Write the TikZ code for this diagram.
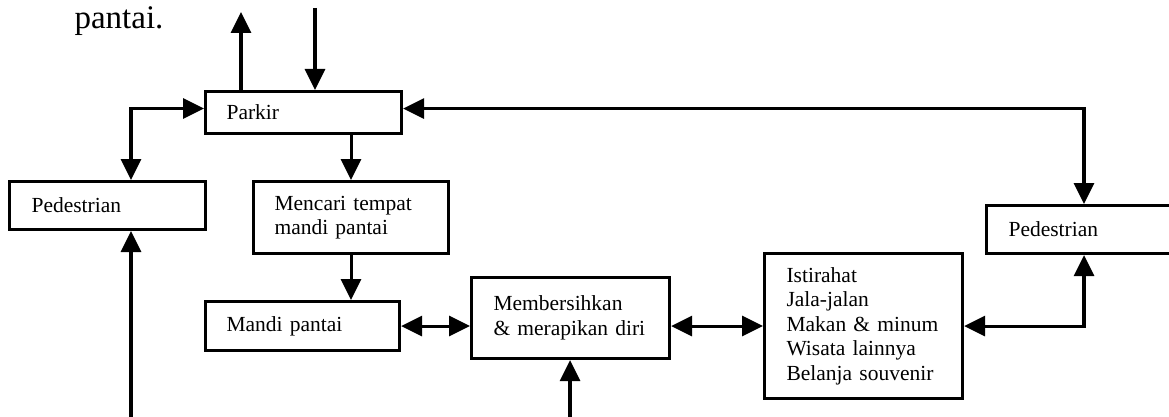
\documentclass[tikz,border=0pt]{standalone}
\usepackage{fontspec}
\setmainfont{Liberation Serif}
\usetikzlibrary{arrows.meta,calc}
\begin{document}
\begin{tikzpicture}[x=1pt,y=-1pt,
  line width=3.1pt,
  every node/.style={font=\fontsize{21.5}{24.5}\selectfont},
  box/.style={draw, line width=3.1pt, anchor=north west, align=left, inner ysep=0pt},
  flow/.style={-{Triangle[length=21pt,width=20pt]}},
  both/.style={{Triangle[length=21pt,width=20pt]}-{Triangle[length=21pt,width=20pt]}}]
\useasboundingbox (0,0) rectangle (1169,417);

% heading fragment
\node[anchor=base west, inner sep=0pt, font=\fontsize{33}{36}\selectfont] (head) at (73,29) {pantai.};

% boxes: inner xsep = left padding, text width = width - 2*padding
\node[box, inner xsep=21pt, text width=154pt, minimum height=42pt] (parkir) at (204,90) {Parkir};
\node[box, inner xsep=22pt, text width=152pt, minimum height=48pt] (pedL) at (8,180) {Pedestrian};
\node[box, inner xsep=21pt, text width=153pt, minimum height=72pt] (cari) at (252,180) {Mencari tempat\\mandi pantai};
\node[box, inner xsep=21pt, text width=152pt, minimum height=49pt] (mandi) at (204,300) {Mandi pantai};
\node[box, inner xsep=22pt, text width=154pt, minimum height=81pt] (bersih) at (470,276) {Membersihkan\\\& merapikan diri};
\node[box, inner xsep=22pt, text width=154pt, minimum height=145pt] (aktif) at (763,252) {Istirahat\\Jala-jalan\\Makan \& minum\\Wisata lainnya\\Belanja souvenir};
\node[box, inner xsep=22pt, text width=156pt, minimum height=48pt] (pedR) at (985,204) {Pedestrian};

% free ends of the open connectors
\coordinate (keluar) at (241,12);
\coordinate (masuk) at (315,8);
\coordinate (bawahL) at (131,417);
\coordinate (bawahM) at (570,417);
\coordinate (jalurL) at ($(pedL.north west)+(123,0)$);
\coordinate (jalurR) at ($(pedR.north west)+(99,0)$);

% connectors
\draw[flow] (keluar |- parkir.north) -- (keluar);
\draw[flow] (masuk) -- (masuk |- parkir.north);
\draw[both] (jalurL) -- (jalurL |- {$(parkir.west)+(0,-4)$}) -- ($(parkir.west)+(0,-4)$);
\draw[both] ($(parkir.east)+(0,-4)$) -| (jalurR);
\draw[flow] (cari.north |- parkir.south) -- (cari.north);
\draw[flow] (cari.south) -- (cari.south |- mandi.north);
\draw[flow] (bawahL) -- (bawahL |- pedL.south);
\draw[flow] (bawahM) -- (bawahM |- bersih.south);
\draw[both] (mandi.east) -- (mandi.east -| bersih.west);
\draw[both] (bersih.east |- mandi.east) -- (aktif.west |- mandi.east);
\draw[both] ($(pedR.south west)+(99,0)$) |- (aktif.east);
\end{tikzpicture}
\end{document}
